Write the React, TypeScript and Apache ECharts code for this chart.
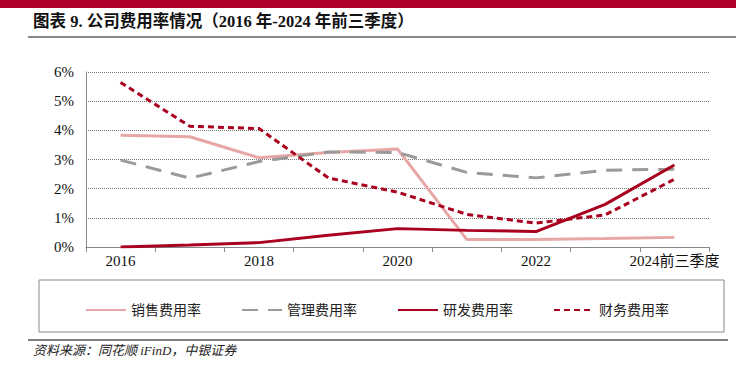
import React, { useEffect, useRef } from "react";
import * as echarts from "echarts";

const categories = ["2016", "2017", "2018", "2019", "2020", "2021", "2022", "2023", "2024前三季度"];
const salesRate = [3.83, 3.78, 3.06, 3.24, 3.36, 0.26, 0.26, 0.29, 0.33];
const adminRate = [2.98, 2.36, 2.93, 3.26, 3.24, 2.56, 2.37, 2.63, 2.67];
const rdRate = [0.0, 0.07, 0.15, 0.4, 0.63, 0.57, 0.53, 1.46, 2.81];
const financeRate = [5.64, 4.14, 4.06, 2.37, 1.88, 1.12, 0.82, 1.1, 2.32];
const yTicks = [0, 1, 2, 3, 4, 5, 6];

const serif = '"Liberation Serif", "Times New Roman", "Noto Sans CJK SC", serif';

export default function App() {
  const ref = useRef<HTMLDivElement>(null);
  useEffect(() => {
    if (!ref.current) return;
    const chart = echarts.init(ref.current, null, { renderer: "svg" });
    const names = ["销售费用率", "管理费用率", "研发费用率", "财务费用率"];
    chart.setOption({
      animation: false,
      backgroundColor: "#ffffff",
      grid: { left: 86, right: 27, top: 72, bottom: 125, containLabel: false },
      legend: {
        left: 80,
        top: 298,
        itemWidth: 40,
        itemHeight: 12,
        itemGap: 40,
        itemStyle: { opacity: 0 },
        textStyle: { fontFamily: serif, fontSize: 14, color: "#222" },
        data: names,
      },
      xAxis: {
        type: "category",
        data: categories,
        boundaryGap: true,
        axisLine: { lineStyle: { color: "#888", width: 1 } },
        axisTick: { show: true, length: 5, interval: 0, lineStyle: { color: "#888" } },
        axisLabel: { interval: 1, color: "#111", fontFamily: serif, fontSize: 15, margin: 6 },
      },
      yAxis: {
        type: "value",
        min: 0,
        max: 6,
        interval: 1,
        axisLine: { show: true, lineStyle: { color: "#888", width: 1 } },
        axisTick: { show: false },
        axisLabel: {
          color: "#111",
          fontFamily: serif,
          fontSize: 15,
          margin: 12,
          formatter: (v: number) => (yTicks.includes(v) ? v + "%" : ""),
        },
        splitLine: { show: true, lineStyle: { color: "#777", type: [1, 1], width: 1 } },
      },
      series: [
        {
          name: names[0],
          type: "line",
          data: salesRate,
          symbol: "none",
          lineStyle: { color: "#E8A7A7", width: 3, type: "solid" },
          itemStyle: { color: "#E8A7A7" },
          z: 2,
        },
        {
          name: names[1],
          type: "line",
          data: adminRate,
          symbol: "none",
          lineStyle: { color: "#9A9A9A", width: 3, type: [16, 10] },
          itemStyle: { color: "#9A9A9A" },
          z: 3,
        },
        {
          name: names[2],
          type: "line",
          data: rdRate,
          symbol: "none",
          lineStyle: { color: "#A8001E", width: 3, type: "solid" },
          itemStyle: { color: "#A8001E" },
          z: 4,
        },
        {
          name: names[3],
          type: "line",
          data: financeRate,
          symbol: "none",
          lineStyle: { color: "#A8001E", width: 3, type: [6, 4] },
          itemStyle: { color: "#A8001E" },
          z: 5,
        },
      ],
      graphic: [
        { type: "rect", left: 0, top: 0, shape: { width: 736, height: 8 }, style: { fill: "#B0002A" } },
        {
          type: "text",
          left: 33,
          top: 13,
          style: {
            text: "图表 9. 公司费用率情况（2016 年-2024 年前三季度）",
            fontFamily: serif,
            fontWeight: "bold",
            fontSize: 16.5,
            fill: "#111",
          },
        },
        { type: "line", shape: { x1: 28, y1: 37, x2: 736, y2: 37 }, style: { stroke: "#888", lineWidth: 2 } },
        {
          type: "rect",
          shape: { x: 39, y: 280, width: 685, height: 52 },
          style: { fill: "none", stroke: "#888", lineWidth: 1 },
        },
        { type: "line", shape: { x1: 28, y1: 340, x2: 728, y2: 340 }, style: { stroke: "#555", lineWidth: 1.5 } },
        {
          type: "text",
          left: 33,
          top: 344,
          style: {
            text: "资料来源：同花顺 iFinD，中银证券",
            fontFamily: serif,
            fontStyle: "italic",
            fontSize: 13,
            fill: "#222",
          },
        },
      ],
    });
    return () => chart.dispose();
  }, []);
  return <div ref={ref} style={{ width: 736, height: 372, position: "absolute", left: 0, top: 0 }} />;
}
